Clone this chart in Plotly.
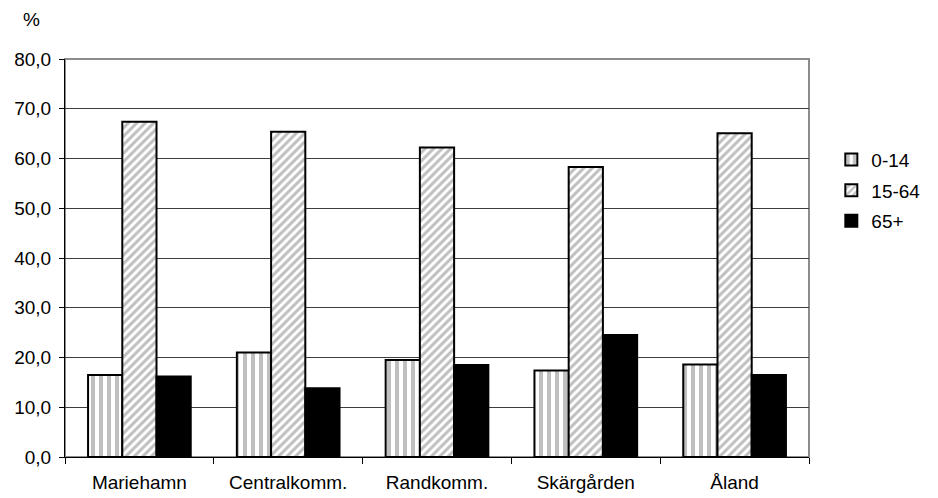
import plotly.graph_objects as go

kommuner = ['Mariehamn', 'Centralkomm.', 'Randkomm.', 'Skärgården', 'Åland']
ald_0_14 = [16.5, 21.0, 19.5, 17.4, 18.6]
ald_15_64 = [67.4, 65.4, 62.2, 58.3, 65.1]
ald_65 = [16.2, 13.8, 18.5, 24.5, 16.5]

font_namn = 'Liberation Sans, Arial, sans-serif'

fig = go.Figure()

fig.add_trace(go.Bar(
    x=kommuner, y=ald_0_14, name='0-14', legendgroup='a',
    marker=dict(color='white', line=dict(color='black', width=2),
                pattern=dict(shape='|', fgcolor='#808080', bgcolor='white',
                             size=8, solidity=0.5)),
))
fig.add_trace(go.Bar(
    x=kommuner, y=ald_15_64, name='15-64', legendgroup='b',
    marker=dict(color='white', line=dict(color='black', width=2),
                pattern=dict(shape='/', fgcolor='#808080', bgcolor='white',
                             size=6, solidity=0.5)),
))
fig.add_trace(go.Bar(
    x=kommuner, y=ald_65, name='65+', legendgroup='c',
    marker=dict(color='black', line=dict(color='black', width=2)),
))

# sidan har 8px marginal i body, darfor 930x490
fig.update_layout(
    width=930,
    height=490,
    margin=dict(l=57, r=110, t=51, b=41),
    plot_bgcolor='white',
    paper_bgcolor='white',
    barmode='group',
    bargap=0.31,
    bargroupgap=0,
    separators=', ',
    font=dict(family=font_namn, size=19, color='black'),
    legend=dict(
        x=1.03, y=0.795, xanchor='left', yanchor='top',
        font=dict(size=19),
        tracegroupgap=3,
        itemwidth=30,
        bgcolor='rgba(0,0,0,0)',
    ),
    annotations=[dict(
        text='%', xref='paper', yref='paper', x=-0.045, y=1.10,
        xanchor='center', yanchor='middle', showarrow=False,
        font=dict(size=19),
    )],
    shapes=[dict(
        type='rect', xref='paper', yref='paper', x0=0, y0=0, x1=1, y1=1,
        line=dict(color='#8c8c8c', width=2), layer='below',
    )],
)

fig.update_xaxes(
    automargin=False,
    showline=True, linecolor='black', linewidth=1,
    ticks='outside', ticklen=6, tickcolor='black',
    tickson='boundaries',
    ticklabelstandoff=8,
    showgrid=False,
)

fig.update_yaxes(
    automargin=False,
    range=[0, 80],
    dtick=10,
    tickformat='.1f',
    showline=True, linecolor='black', linewidth=1,
    ticks='outside', ticklen=5, tickcolor='black',
    ticklabelstandoff=4,
    showgrid=True, gridcolor='#3d3d3d', gridwidth=1,
    zeroline=False,
)

fig.write_html('out.html')
